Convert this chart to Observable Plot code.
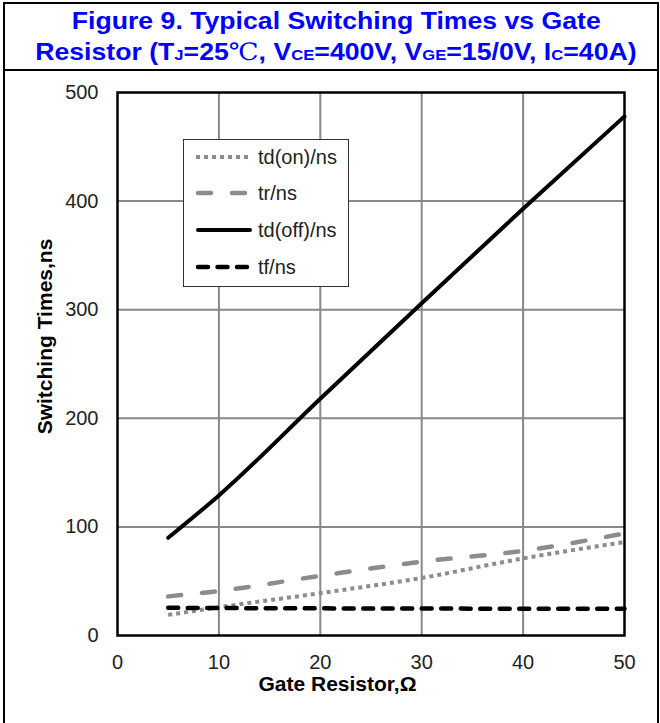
<!DOCTYPE html>
<html><head><meta charset="utf-8">
<script src="https://cdn.jsdelivr.net/npm/d3@7"></script>
<script src="https://cdn.jsdelivr.net/npm/@observablehq/plot@0.6"></script>
<style>
body{margin:0;background:#fff;font-family:"Liberation Sans",Arial,sans-serif;}
#wrap{position:absolute;left:3px;top:2px;width:656px;height:740px;border:2px solid #000;box-sizing:border-box;overflow:hidden;background:#fff;}
#title{height:64px;padding-top:1px;padding-left:10px;border-bottom:2px solid #000;color:#0000ff;font-weight:bold;font-size:24px;line-height:31px;text-align:center;white-space:nowrap;}
#title .ln{display:block;height:31px;}
#title .ln span.s{display:inline-block;transform:scaleX(1.11);transform-origin:center;}
#title .sub{font-size:15px;}
#title .deg{font-family:"DejaVu Serif","Liberation Serif",serif;font-weight:normal;}
#chart{display:block;}
#legend{position:absolute;left:178px;top:135px;}
</style>
</head><body>
<div id="wrap">
  <div id="title"><span class="ln"><span class="s">Figure 9. Typical Switching Times vs Gate</span></span><span class="ln"><span class="s">Resistor (T<span class="sub">J</span>=25<span class="deg">℃</span>, V<span class="sub">CE</span>=400V, V<span class="sub">GE</span>=15/0V, I<span class="sub">C</span>=40A)</span></span></div>
  <div id="chart"></div>
  <div id="legend"></div>
</div>
<script>
// ---- data ----
const gateResistor = [5, 10, 20, 30, 40, 50];
const tdOn  = [19, 26, 39, 53, 71, 86];
const tr    = [36, 41, 55, 68, 78, 94];
const tdOff = [90, 129, 218, 306, 393, 478];
const tf    = [25.5, 25.3, 25, 24.8, 24.7, 24.6];
const seriesNames = ["td(on)/ns", "tr/ns", "td(off)/ns", "tf/ns"];
const seriesValues = [tdOn, tr, tdOff, tf];
const xTicks = [0, 10, 20, 30, 40, 50];
const yTicks = [0, 100, 200, 300, 400, 500];
const xLabel = "Gate Resistor,Ω";
const yLabel = "Switching Times,ns";

// ---- styles ----
const styles = {
  "td(on)/ns":  {stroke: "#8c8c8c", strokeWidth: 4,   dash: "4,4",    cap: "butt"},
  "tr/ns":      {stroke: "#8c8c8c", strokeWidth: 4.5, dash: "13,21",  cap: "round"},
  "td(off)/ns": {stroke: "#000000", strokeWidth: 4,   dash: null,     cap: "round"},
  "tf/ns":      {stroke: "#000000", strokeWidth: 4.5, dash: "10,9.5", cap: "round"}
};

const rows = seriesNames.map((name, i) => gateResistor.map((x, j) => ({name, x, y: seriesValues[i][j]})));

const lineMarks = rows.map((data, i) => {
  const s = styles[seriesNames[i]];
  return Plot.line(data, {x: "x", y: "y", curve: "monotone-x", stroke: s.stroke, strokeWidth: s.strokeWidth,
    strokeDasharray: s.dash || undefined, strokeLinecap: s.cap, strokeLinejoin: "round"});
});

const chart = Plot.plot({
  width: 652,
  height: 652,
  marginLeft: 112,
  marginRight: 33,
  marginTop: 21,
  marginBottom: 88,
  style: {fontFamily: "'Liberation Sans', Arial, sans-serif", fontSize: "20px", color: "#222", background: "#fff"},
  x: {domain: [0, 50]},
  y: {domain: [0, 500]},
  marks: [
    Plot.gridX(xTicks.slice(1, -1), {stroke: "#888", strokeOpacity: 1, strokeWidth: 2}),
    Plot.gridY(yTicks.slice(1, -1), {stroke: "#888", strokeOpacity: 1, strokeWidth: 2}),
    ...lineMarks,
    Plot.frame({stroke: "#000", strokeWidth: 2.5}),
    Plot.axisX(xTicks, {tickSize: 0, tickPadding: 19, label: null, fontSize: 20}),
    Plot.axisY(yTicks, {tickSize: 0, tickPadding: 19, label: null, fontSize: 20}),
    Plot.text([xLabel], {frameAnchor: "bottom", textAnchor: "middle", dx: -33.5, dy: 55, fontWeight: "bold", fontSize: 21, fill: "#000"}),
    Plot.text([yLabel], {frameAnchor: "left", textAnchor: "middle", rotate: -90, dx: -72, dy: -27.5, fontWeight: "bold", fontSize: 21, fill: "#000"})
  ]
});
document.getElementById("chart").appendChild(chart);

// ---- legend ----
const lg = d3.select("#legend").append("svg").attr("width", 167).attr("height", 149)
  .style("display", "block").style("font-family", "'Liberation Sans', Arial, sans-serif");
lg.append("rect").attr("x", 0.5).attr("y", 0.5).attr("width", 165).attr("height", 147)
  .attr("fill", "#fff").attr("stroke", "#333").attr("stroke-width", 1);
const rowY = [18, 54, 91, 128];
seriesNames.forEach((name, i) => {
  const s = styles[name];
  const g = lg.append("g").attr("transform", `translate(0,${rowY[i]})`);
  g.append("line").attr("x1", s.cap === "round" ? 15 : 13).attr("x2", s.cap === "round" ? 67 : 69)
    .attr("y1", 0).attr("y2", 0).attr("stroke", s.stroke).attr("stroke-width", s.strokeWidth)
    .attr("stroke-dasharray", s.dash).attr("stroke-linecap", s.cap);
  g.append("text").attr("x", 75).attr("y", 0).attr("dy", "0.35em").attr("font-size", 20)
    .attr("fill", "#222").text(name);
});
</script>
</body></html>
